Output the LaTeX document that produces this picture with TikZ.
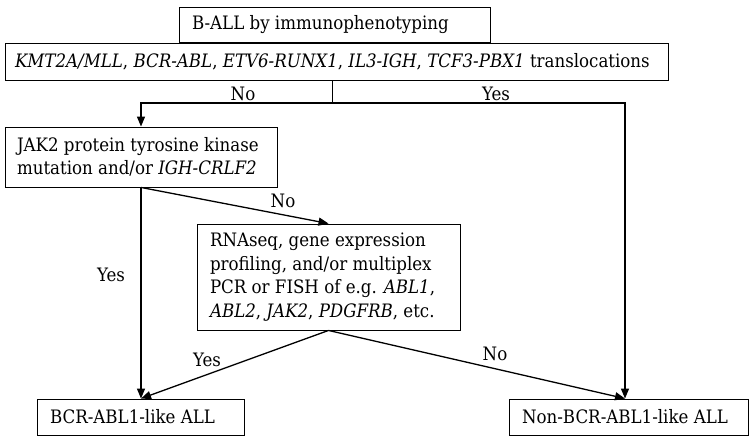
\documentclass[tikz,border=0pt]{standalone}
\usepackage{fontspec}
\setmainfont{DejaVu Serif Condensed}
\usepackage{tikz}
\usetikzlibrary{arrows.meta, positioning, calc}
\definecolor{boxline}{HTML}{000000}

\begin{document}
\begin{tikzpicture}[
    x=1pt, y=-1pt,
    font=\fontsize{18.5}{23.5}\selectfont,
    stepbox/.style={rectangle, draw=boxline, line width=0.9pt, inner ysep=0pt, inner xsep=13pt, align=flush left},
    flow/.style={line width=1.3pt, -{Triangle[length=10pt,width=8pt]}},
    branch/.style={inner sep=1pt},
]
\useasboundingbox (0,0) rectangle (750,441);

% Initial screen
\node[stepbox, text width=285pt, minimum height=35pt] (bcell) at (334.5,24.5) {B-ALL by immunophenotyping};
\node[stepbox, text width=643pt, inner xsep=10pt, minimum height=37pt] (transl) at (336.5,61.5) {\textit{KMT2A/MLL}, \textit{BCR-ABL}, \textit{ETV6-RUNX1}, \textit{IL3-IGH}, \textit{TCF3-PBX1} translocations};

% Second tier
\node[stepbox, text width=248pt, inner xsep=12pt, minimum height=60pt] (jak) at (141,157) {JAK2 protein tyrosine kinase\\mutation and/or \textit{IGH-CRLF2}};
\node[stepbox, text width=237pt, minimum height=106pt] (rnaseq) at (328.5,277) {RNAseq, gene expression\\profiling, and/or multiplex\\PCR or FISH of e.g. \textit{ABL1},\\\textit{ABL2}, \textit{JAK2}, \textit{PDGFRB}, etc.};

% Outcomes
\node[stepbox, text width=182pt, inner xsep=12.5pt, minimum height=36pt] (bcrlike) at (141,417) {BCR-ABL1-like ALL};
\node[stepbox, text width=213pt, minimum height=36pt] (nonlike) at (628.5,417) {Non-BCR-ABL1-like ALL};

% Connectors
\coordinate (split) at (332,103);
\draw[line width=0.9pt] (split |- transl.south) -- (split);
\draw[flow] (split) -| (jak.north);
\draw[flow] (split) -| ($(nonlike.north)+(-3.5,0)$);
\draw[flow] (jak.south) -- (bcrlike.north);
\draw[flow] (jak.south) -- (rnaseq.north);
\draw[flow] (rnaseq.south) -- (bcrlike.north);
\draw[flow] (rnaseq.south) -- ($(nonlike.north)+(-3.5,0)$);

% Branch labels
\node[branch] (no1) at (243,94) {No};
\node[branch] (yes1) at (496,94) {Yes};
\node[branch] (no2) at (283,201) {No};
\node[branch] (yes2) at (111,275) {Yes};
\node[branch] (yes3) at (207,360) {Yes};
\node[branch] (no3) at (495,354) {No};

\end{tikzpicture}
\end{document}
